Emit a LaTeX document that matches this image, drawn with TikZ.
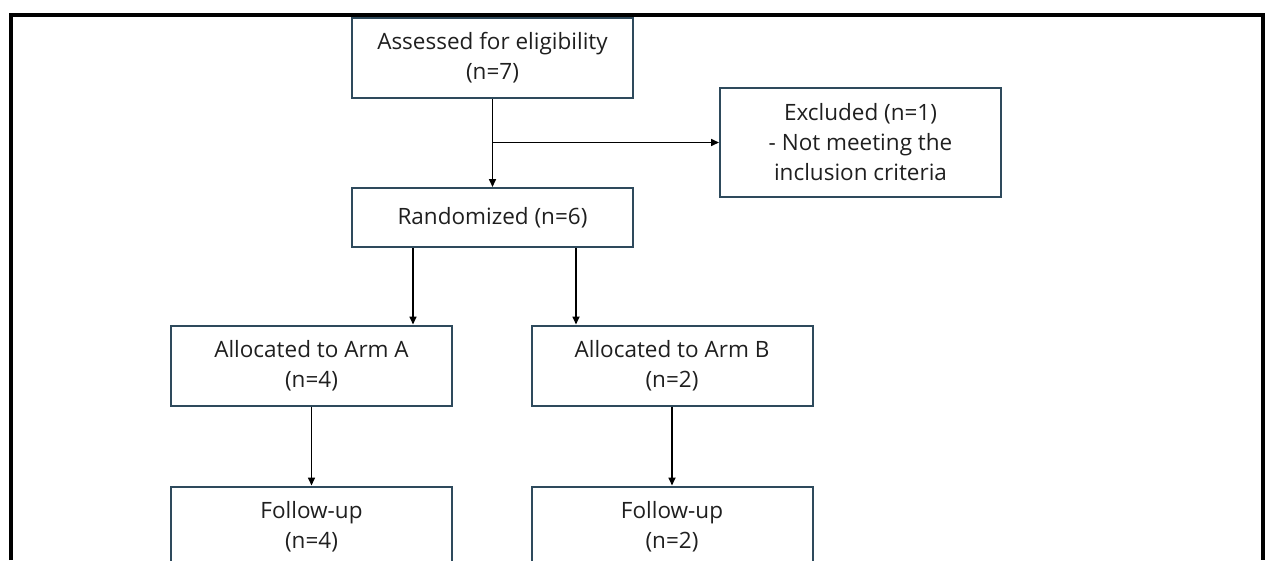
\documentclass[tikz,border=0pt]{standalone}
\usepackage{fontspec}
\setmainfont{Open Sans}
\usetikzlibrary{arrows.meta}
\definecolor{boxcol}{HTML}{2E4A5C}
\definecolor{txtcol}{HTML}{1F1F1F}
\begin{document}
\begin{tikzpicture}[x=1pt,y=-1pt,
  box/.style={draw=boxcol, line width=2pt, minimum width=281pt, inner sep=0pt,
    align=center, text=txtcol, font=\fontsize{22.5}{30}\selectfont},
  arr/.style={draw=black, line width=1.6pt, -{Triangle[length=8pt,width=7pt]}},
  frame/.style={draw=black, line width=4pt}]
\useasboundingbox (0,0) rectangle (1274,560);
\clip (0,0) rectangle (1274,560);
% outer frame
\draw[frame] (11,560) -- (11,15) -- (1263,15) -- (1263,560);
% boxes
\node[box, minimum height=80pt] (A) at (492.5,58) {Assessed for eligibility\\(n=7)};
\node[box, minimum height=59pt] (R) at (492.5,217.5) {Randomized (n=6)};
\node[box, minimum height=109pt] (E) at (860.5,142.5) {Excluded (n=1)\\- Not meeting the\\inclusion criteria};
\node[box, minimum height=80pt] (AA) at (311.5,365.5) {Allocated to Arm A\\(n=4)};
\node[box, minimum height=80pt] (AB) at (672,365.5) {Allocated to Arm B\\(n=2)};
\node[box, minimum height=80pt] (FA) at (311.5,526.5) {Follow-up\\(n=4)};
\node[box, minimum height=80pt] (FB) at (672,526.5) {Follow-up\\(n=2)};
% connectors
\draw[arr] (A.south) -- (R.north);
\coordinate (br) at (A.south |- E.west);
\draw[arr] (br) -- (E.west);
\coordinate (ra) at ([xshift=-79.5pt]R.south);
\coordinate (rb) at ([xshift=83.5pt]R.south);
\draw[arr] (ra) -- (ra |- AA.north);
\draw[arr] (rb) -- (rb |- AB.north);
\draw[arr] (AA.south) -- (FA.north);
\draw[arr] (AB.south) -- (FB.north);
\end{tikzpicture}
\end{document}
